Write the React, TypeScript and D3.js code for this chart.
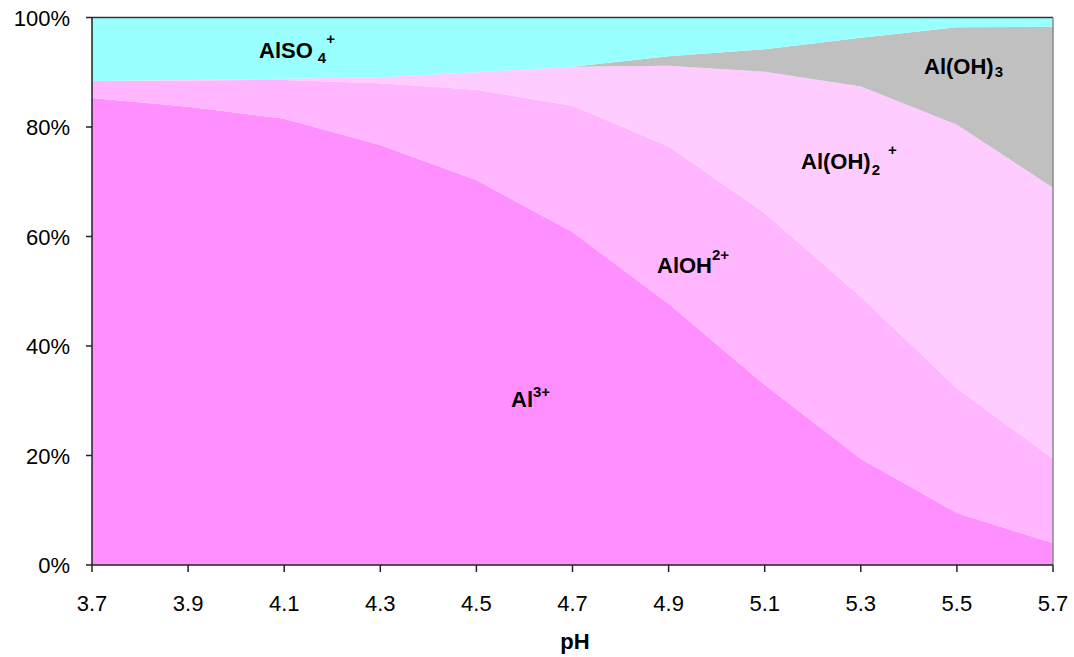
import React from "react";
import * as d3 from "d3";

const pH = [3.7, 3.9, 4.1, 4.3, 4.5, 4.7, 4.9, 5.1, 5.3, 5.5, 5.7];
const xTickLabels = ["3.7", "3.9", "4.1", "4.3", "4.5", "4.7", "4.9", "5.1", "5.3", "5.5", "5.7"];
const yTicks = [0, 20, 40, 60, 80, 100];

const al3 = [85.3, 83.7, 81.5, 76.7, 70.3, 60.8, 47.7, 32.9, 19.4, 9.5, 4.0];
const aloh = [3.1, 4.8, 7.1, 11.3, 16.5, 23.1, 28.8, 31.4, 29.6, 22.8, 15.4];
const aloh2 = [0.0, 0.1, 0.2, 1.1, 3.2, 7.1, 14.7, 25.8, 38.4, 48.1, 49.5];
const aloh3 = [0, 0, 0, 0, 0, 0, 1.7, 4.1, 8.9, 17.8, 29.4];
const also4 = [11.6, 11.4, 11.2, 10.9, 10.0, 9.0, 7.1, 5.8, 3.7, 1.8, 1.7];

const seriesKeys = ["al3", "aloh", "aloh2", "aloh3", "also4"];
const seriesColors = ["#FF8FFF", "#FFB6FF", "#FFCCFF", "#C0C0C0", "#99FFFF"];

const W = 1074, H = 657;
const L = 92, R = 1053, T = 17.5, B = 565;
const FONT = "'Liberation Sans', Arial, Helvetica, sans-serif";

export default function App() {
  const rows = pH.map((p, i) => ({
    pH: p, al3: al3[i], aloh: aloh[i], aloh2: aloh2[i], aloh3: aloh3[i], also4: also4[i],
  }));
  const stacked = d3.stack<any>().keys(seriesKeys)(rows);
  const x = d3.scaleLinear().domain([3.7, 5.7]).range([L, R]);
  const y = d3.scaleLinear().domain([0, 100]).range([B, T]);
  const area = d3
    .area<any>()
    .x((d) => x(d.data.pH))
    .y0((d) => y(d[0]))
    .y1((d) => y(Math.min(100, d[1])));

  const labelStyle = { fontFamily: FONT, fontWeight: 700, fill: "#000" } as const;

  return (
    <svg width={W} height={H} style={{ position: "absolute", left: 0, top: 0, background: "#fff" }}>
      {stacked.map((s, i) => (
        <path key={s.key} d={area(s) || ""} fill={seriesColors[i]} stroke="none" />
      ))}
      <line x1={L} y1={T} x2={R} y2={T} stroke="#333" strokeWidth={1.5} />
      <line x1={R} y1={T} x2={R} y2={B} stroke="#888" strokeWidth={1.5} />
      <line x1={L} y1={T} x2={L} y2={B} stroke="#222" strokeWidth={1.5} />
      <line x1={L} y1={B} x2={R} y2={B} stroke="#222" strokeWidth={1.5} />
      {yTicks.map((t) => (
        <g key={t}>
          <line x1={L - 6} x2={L} y1={y(t)} y2={y(t)} stroke="#222" strokeWidth={1.5} />
          <text x={70} y={y(t) + 8} textAnchor="end" fontFamily={FONT} fontSize={22} fill="#000">
            {t}%
          </text>
        </g>
      ))}
      {pH.map((p, i) => (
        <g key={p}>
          <line x1={x(p)} x2={x(p)} y1={B} y2={B + 7} stroke="#222" strokeWidth={1.5} />
          <text x={x(p)} y={611} textAnchor="middle" fontFamily={FONT} fontSize={22} fill="#000">
            {xTickLabels[i]}
          </text>
        </g>
      ))}
      <text x={575} y={649} textAnchor="middle" fontSize={22} {...labelStyle}>pH</text>

      <text x={259} y={58} fontSize={22} {...labelStyle}>
        AlSO<tspan fontSize={15} dx={5} dy={5}>4</tspan>
        <tspan fontSize={15} dx={0} dy={-19}>+</tspan>
      </text>
      <text x={924} y={74} fontSize={22} {...labelStyle}>
        Al(OH)<tspan fontSize={15} dx={1} dy={3}>3</tspan>
      </text>
      <text x={801} y={169} fontSize={22} {...labelStyle}>
        Al(OH)<tspan fontSize={15} dx={1} dy={6}>2</tspan>
        <tspan fontSize={15} dx={8} dy={-20}>+</tspan>
      </text>
      <text x={657} y={273} fontSize={22} {...labelStyle}>
        AlOH<tspan fontSize={15} dy={-13}>2+</tspan>
      </text>
      <text x={511} y={407} fontSize={22} {...labelStyle}>
        Al<tspan fontSize={15} dy={-10}>3+</tspan>
      </text>
    </svg>
  );
}
